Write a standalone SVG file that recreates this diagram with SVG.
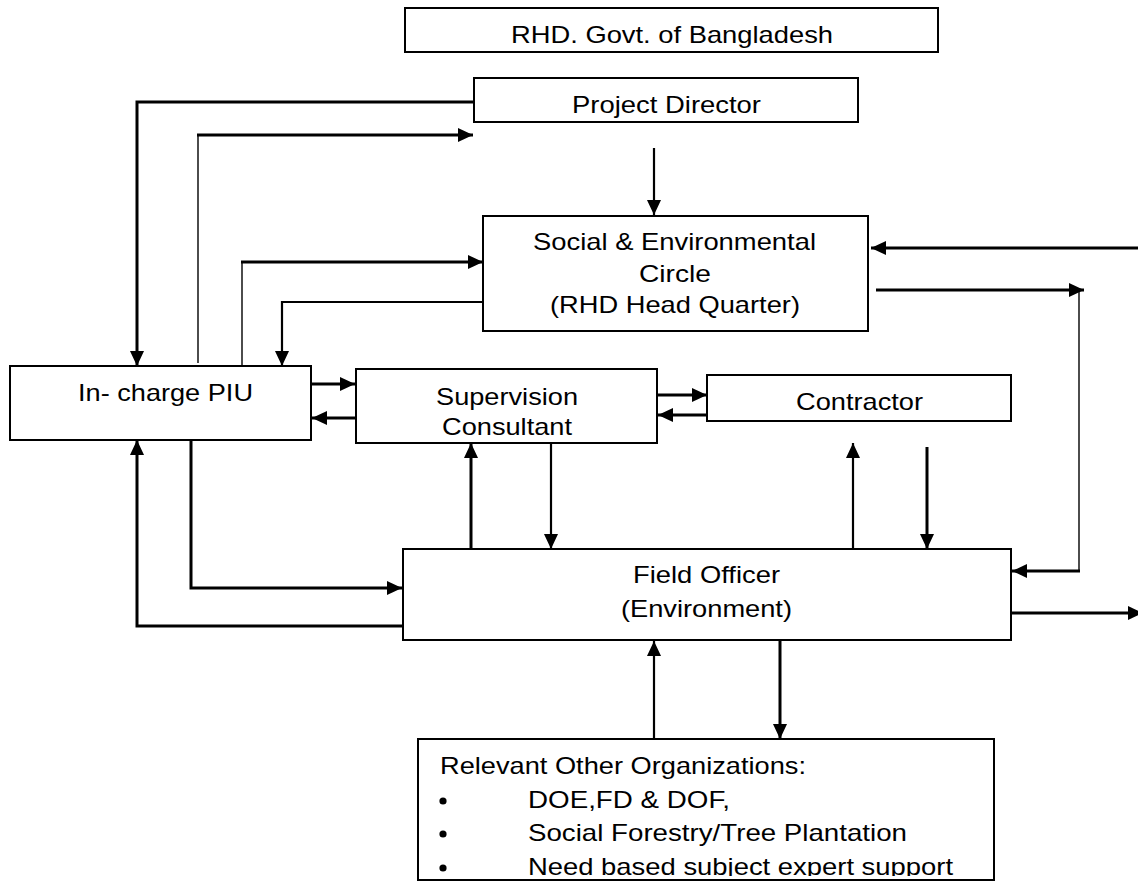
<svg xmlns="http://www.w3.org/2000/svg" width="1138" height="882" viewBox="0 0 1138 882">
<style>
.box{fill:#fff;stroke:#000;stroke-width:2}
.t{font-family:"Liberation Sans",Arial,sans-serif;font-size:24px;fill:#000}
.c{fill:none;stroke:#000}
.k{stroke-width:3}
.m{stroke-width:2.2}
.s{stroke-width:1.4}
</style>
<defs>
<marker id="ah" markerUnits="userSpaceOnUse" markerWidth="15" markerHeight="14" refX="15" refY="7" orient="auto">
<path d="M0,0 L15,7 L0,14 z" fill="#000"/>
</marker>
<clipPath id="rooclip"><rect x="418" y="739" width="576" height="137"/></clipPath>
</defs>
<rect width="1138" height="882" fill="#fff"/>

<g id="connectors">
<path class="c k" d="M474,102 H137 V366" marker-end="url(#ah)"/>
<path class="c s" d="M198,363 V135"/>
<path class="c k" d="M197,135 H473" marker-end="url(#ah)"/>
<path class="c m" d="M654,148 V215" marker-end="url(#ah)"/>
<path class="c s" d="M242,366 V262"/>
<path class="c k" d="M241,262 H483" marker-end="url(#ah)"/>
<path class="c m" d="M483,302 H282 V366" marker-end="url(#ah)"/>
<path class="c k" d="M311,384 H355" marker-end="url(#ah)"/>
<path class="c k" d="M356,418 H312" marker-end="url(#ah)"/>
<path class="c k" d="M657,395 H707" marker-end="url(#ah)"/>
<path class="c k" d="M707,415 H658" marker-end="url(#ah)"/>
<path class="c k" d="M1140,248 H871" marker-end="url(#ah)"/>
<path class="c k" d="M876,290 H1084" marker-end="url(#ah)"/>
<path class="c s" d="M1079,290 V571"/>
<path class="c k" d="M1080,571 H1012" marker-end="url(#ah)"/>
<path class="c k" d="M1011,613 H1143" marker-end="url(#ah)"/>
<path class="c k" d="M471,549 V443" marker-end="url(#ah)"/>
<path class="c m" d="M551,443 V549" marker-end="url(#ah)"/>
<path class="c m" d="M853,549 V443" marker-end="url(#ah)"/>
<path class="c k" d="M927,447 V549" marker-end="url(#ah)"/>
<path class="c k" d="M191,440 V588 H402" marker-end="url(#ah)"/>
<path class="c k" d="M403,626 H137 V440" marker-end="url(#ah)"/>
<path class="c m" d="M654,739 V641" marker-end="url(#ah)"/>
<path class="c k" d="M780,640 V739" marker-end="url(#ah)"/>
</g>

<g id="rhd">
<rect class="box" x="405" y="8" width="533" height="44"/>
<text class="t" x="511" y="43" textLength="322" lengthAdjust="spacingAndGlyphs">RHD. Govt. of Bangladesh</text>
</g>

<g id="project-director">
<rect class="box" x="474" y="78" width="384" height="44"/>
<text class="t" x="572" y="113" textLength="189" lengthAdjust="spacingAndGlyphs">Project Director</text>
</g>

<g id="se-circle">
<rect class="box" x="483" y="216" width="385" height="115"/>
<text class="t" x="533" y="250" textLength="283" lengthAdjust="spacingAndGlyphs">Social &amp; Environmental</text>
<text class="t" x="639" y="282" textLength="72" lengthAdjust="spacingAndGlyphs">Circle</text>
<text class="t" x="550" y="313" textLength="250" lengthAdjust="spacingAndGlyphs">(RHD Head Quarter)</text>
</g>

<g id="piu">
<rect class="box" x="10" y="366" width="301" height="74"/>
<text class="t" x="78" y="401" textLength="175" lengthAdjust="spacingAndGlyphs">In- charge PIU</text>
</g>

<g id="supervision-consultant">
<rect class="box" x="356" y="369" width="301" height="74"/>
<text class="t" x="436" y="405" textLength="142" lengthAdjust="spacingAndGlyphs">Supervision</text>
<text class="t" x="442" y="435" textLength="130" lengthAdjust="spacingAndGlyphs">Consultant</text>
</g>

<g id="contractor">
<rect class="box" x="707" y="375" width="304" height="46"/>
<text class="t" x="796" y="410" textLength="127" lengthAdjust="spacingAndGlyphs">Contractor</text>
</g>

<g id="field-officer">
<rect class="box" x="403" y="549" width="608" height="91"/>
<text class="t" x="633" y="583" textLength="147" lengthAdjust="spacingAndGlyphs">Field Officer</text>
<text class="t" x="621" y="617" textLength="171" lengthAdjust="spacingAndGlyphs">(Environment)</text>
</g>

<g id="other-organizations">
<rect class="box" x="418" y="739" width="576" height="141"/>
<text class="t" x="440" y="774" textLength="366" lengthAdjust="spacingAndGlyphs">Relevant Other Organizations:</text>
<circle cx="443" cy="801" r="3.6"/>
<text class="t" x="528" y="808" textLength="202" lengthAdjust="spacingAndGlyphs">DOE,FD &amp; DOF,</text>
<circle cx="443" cy="834" r="3.6"/>
<text class="t" x="528" y="841" textLength="379" lengthAdjust="spacingAndGlyphs">Social Forestry/Tree Plantation</text>
<circle cx="443" cy="868" r="3.6"/>
<text class="t" x="528" y="875" textLength="425" lengthAdjust="spacingAndGlyphs" clip-path="url(#rooclip)">Need based subject expert support</text>
</g>
</svg>
